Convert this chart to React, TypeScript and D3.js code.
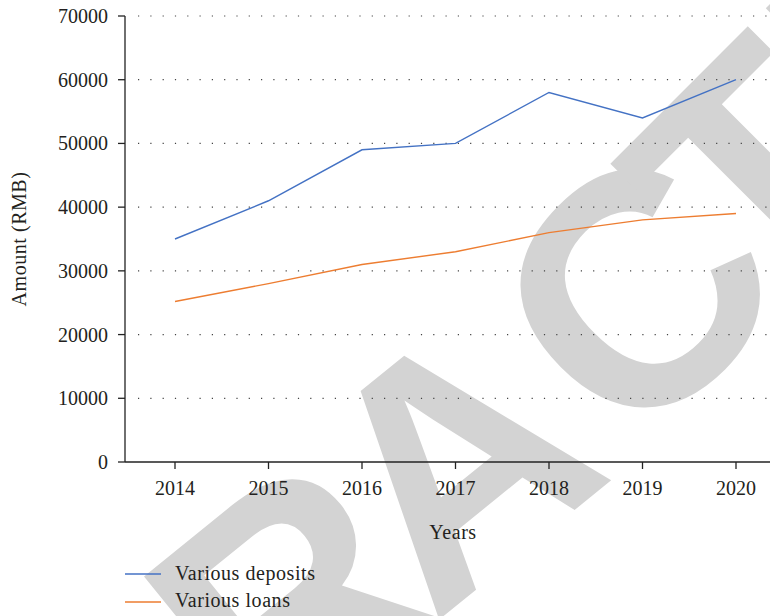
import React from "react";
import * as d3 from "d3";

const years = ["2014", "2015", "2016", "2017", "2018", "2019", "2020"];
const deposits = [35000, 41000, 49000, 50000, 58000, 54000, 60000];
const loans = [25200, 28000, 31000, 33000, 36000, 38000, 39000];
const yTicks = [0, 10000, 20000, 30000, 40000, 50000, 60000, 70000];
const seriesNames = ["Various deposits", "Various loans"];
const colors = ["#4472C4", "#ED7D31"];

// watermark letters (decoration): letter, centre x, centre y, rotation
const watermark: [string, number, number, number][] = [
  ["R", 288, 600, -39],
  ["A", 451, 458, -39],
  ["C", 633, 290, -45],
  ["T", 756, 172, -45],
  ["E", 905, 23, -45],
];

const W = 770;
const H = 616;
const FONT = "'Liberation Serif', 'Times New Roman', serif";
const WM_SIZE = 330;
const LS = 0.55;

export default function App() {
  const axisX = 125;
  const axisY = 462;
  const x = d3.scalePoint<string>().domain(years).range([175, 736]);
  const y = d3.scaleLinear().domain([0, 70000]).range([axisY, 16]);
  const line = d3
    .line<number>()
    .x((_, i) => x(years[i]) as number)
    .y((d) => y(d));
  const series = [deposits, loans];

  return (
    <svg
      width={W}
      height={H}
      style={{ position: "absolute", left: 0, top: 0, background: "#fff", overflow: "hidden" }}
      fontFamily={FONT}
    >
      <rect width={W} height={H} fill="#fff" />
      {/* watermark */}
      {watermark.map(([ch, cx, cy, r], i) => (
        <text
          key={"wm" + i}
          transform={`translate(${cx},${cy}) rotate(${r})`}
          x={0}
          y={WM_SIZE * 0.358}
          textAnchor="middle"
          fontFamily="'Liberation Sans', Arial, sans-serif"
          fontWeight="bold"
          fontSize={WM_SIZE}
          fill="#d3d3d3"
        >
          {ch}
        </text>
      ))}
      {/* grid */}
      {yTicks
        .filter((t) => t > 0)
        .map((t) => (
          <line
            key={"g" + t}
            x1={axisX + 13}
            x2={W}
            y1={y(t)}
            y2={y(t)}
            stroke="#444"
            strokeWidth={1.2}
            strokeDasharray="1.2 11.1"
          />
        ))}
      {/* y axis */}
      <line x1={axisX} x2={axisX} y1={y(70000)} y2={axisY} stroke="#222" strokeWidth={1.3} />
      {yTicks.map((t) => (
        <g key={"yt" + t}>
          <line x1={axisX - 7} x2={axisX} y1={y(t)} y2={y(t)} stroke="#222" strokeWidth={1.3} />
          <text
            x={108}
            y={y(t)}
            textAnchor="end"
            dominantBaseline="central"
            fontSize={20}
            fill="#231f20"
          >
            {t}
          </text>
        </g>
      ))}
      {/* x axis */}
      <line x1={axisX} x2={W} y1={axisY} y2={axisY} stroke="#222" strokeWidth={1.3} />
      {years.map((yr) => (
        <g key={"xt" + yr}>
          <line x1={x(yr)} x2={x(yr)} y1={axisY} y2={axisY + 7} stroke="#222" strokeWidth={1.3} />
          <text x={x(yr)} y={495} textAnchor="middle" fontSize={20} fill="#231f20">
            {yr}
          </text>
        </g>
      ))}
      <text x={453} y={539} textAnchor="middle" fontSize={20} letterSpacing={LS} fill="#231f20">
        Years
      </text>
      <text
        transform={`translate(26,${(y(70000) + axisY) / 2}) rotate(-90)`}
        textAnchor="middle"
        fontSize={20}
        letterSpacing={LS}
        fill="#231f20"
      >
        Amount (RMB)
      </text>
      {/* lines */}
      {series.map((s, i) => (
        <path key={"s" + i} d={line(s) || ""} fill="none" stroke={colors[i]} strokeWidth={1.4} />
      ))}
      {/* legend */}
      {seriesNames.map((n, i) => (
        <g key={"l" + i}>
          <line x1={125} x2={161} y1={574 + i * 28} y2={574 + i * 28} stroke={colors[i]} strokeWidth={1.3} />
          <text x={175} y={580 + i * 27} fontSize={20} letterSpacing={LS} fill="#231f20">
            {n}
          </text>
        </g>
      ))}
    </svg>
  );
}
